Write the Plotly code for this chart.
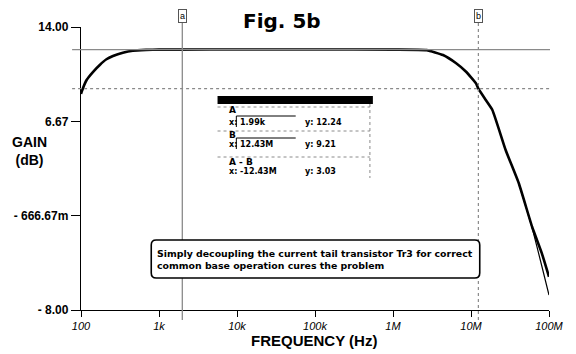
import math
import plotly.graph_objects as go

# ---- data ----
freq = [100, 102, 118, 143, 174, 212, 257, 344, 461, 682, 1000, 1990, 1e4, 1e5, 1e6,
        2.7e6, 4.38e6, 6.45e6, 8.65e6, 11.6e6, 12.43e6, 15.5e6, 18.8e6, 27.8e6, 41e6,
        60.7e6, 81e6, 100e6]
gain = [8.8, 8.97, 9.88, 10.52, 11.05, 11.49, 11.74, 12.0, 12.16, 12.22, 12.24, 12.24,
        12.25, 12.25, 12.24, 12.2, 11.82, 11.18, 10.52, 9.62, 9.21, 8.32, 7.55, 4.44,
        1.85, -1.53, -3.6, -5.42]
freq2 = [41e6, 60.7e6, 81e6, 100e6]
gain2 = [1.85, -1.6, -4.6, -6.84]

x_tickvals = [100, 1e3, 1e4, 1e5, 1e6, 1e7, 1e8]
x_ticktext = ["100", "1k", "10k", "100k", "1M", "10M", "100M"]
x_minor = [m * d for d in [100, 1e3, 1e4, 1e5, 1e6, 1e7] for m in range(2, 10)]
y_tickvals = [14, 6.6667, -0.6667, -8]
y_ticktext = ["14.00", "6.67", "- 666.67m", "- 8.00"]
y_minor = [-8 + i * 22 / 30 for i in range(1, 30) if i % 10]

cursor_a = (1.99e3, 12.24)
cursor_b = (12.43e6, 9.21)
table_rows = [("A", "1.99k", "12.24"), ("B", "12.43M", "9.21"), ("A - B", "-12.43M", "3.03")]
note = "Simply decoupling the current tail transistor Tr3 for correct<br>common base operation cures the problem"

# ---- layout geometry (pixels) ----
W, H = 576, 354
L, R, T, B = 81, 554, 27, 310
PW, PH = R - L, B - T
FONT = "Liberation Sans, Arial, sans-serif"
WIDE = "DejaVu Sans, sans-serif"


def px(x):
    return (x - L) / PW


def py(y):
    return (B - y) / PH


fig = go.Figure()
fig.add_trace(go.Scatter(x=freq, y=gain, mode="lines",
                         line=dict(color="black", width=2.6, shape="spline", smoothing=0.4),
                         hoverinfo="skip", showlegend=False))
fig.add_trace(go.Scatter(x=freq2, y=gain2, mode="lines",
                         line=dict(color="black", width=1.2, shape="spline", smoothing=0.4),
                         hoverinfo="skip", showlegend=False))
# minor tick marks as axis decoration (markers drawn just outside the axes)
fig.add_trace(go.Scatter(x=x_minor, y=[-8 - 2.2 / 12.86] * len(x_minor), mode="markers",
                         marker=dict(symbol="line-ns", size=4.5, line=dict(color="black", width=1.2)),
                         cliponaxis=False, hoverinfo="skip", showlegend=False))
fig.add_trace(go.Scatter(x=[10 ** (2 - 2.2 / 78.83)] * len(y_minor), y=y_minor, mode="markers",
                         marker=dict(symbol="line-ew", size=4.5, line=dict(color="black", width=1.2)),
                         cliponaxis=False, hoverinfo="skip", showlegend=False))

shapes = []
grey = "#8a8a8a"
# horizontal cursor lines
shapes.append(dict(type="line", xref="paper", yref="y", x0=px(72), x1=px(555),
                   y0=cursor_a[1], y1=cursor_a[1], line=dict(color=grey, width=1.2)))
shapes.append(dict(type="line", xref="paper", yref="y", x0=px(72), x1=px(555),
                   y0=cursor_b[1], y1=cursor_b[1], line=dict(color=grey, width=1.2, dash="dot")))
# vertical cursor lines
shapes.append(dict(type="line", xref="x", yref="paper", x0=cursor_a[0], x1=cursor_a[0],
                   y0=py(320), y1=py(21), line=dict(color=grey, width=1.3)))
shapes.append(dict(type="line", xref="x", yref="paper", x0=cursor_b[0], x1=cursor_b[0],
                   y0=py(320), y1=py(21), line=dict(color=grey, width=1.2, dash="dot")))

# cursor table
tx0, tx1 = 219, 376
shapes.append(dict(type="rect", xref="paper", yref="paper", x0=px(tx0), x1=px(tx1),
                   y0=py(104), y1=py(96), fillcolor="black", line=dict(width=0)))
shapes.append(dict(type="line", xref="paper", yref="paper", x0=px(373), x1=px(373),
                   y0=py(104), y1=py(178), line=dict(color=grey, width=1, dash="dot")))
for sy in [107, 131, 157]:
    shapes.append(dict(type="line", xref="paper", yref="paper", x0=px(tx0), x1=px(373),
                       y0=py(sy), y1=py(sy), line=dict(color=grey, width=1, dash="dot")))
for top in [116, 138]:
    shapes.append(dict(type="path", xref="paper", yref="paper",
                       path=f"M {px(238)} {py(top + 11)} L {px(238)} {py(top)} L {px(298)} {py(top)}",
                       line=dict(color="black", width=1)))

# rounded note box
bx0, bx1, by0, by1, r = 152, 484, 240, 278, 5
rx, ry = r / PW, r / PH
X0, X1, Y0, Y1 = px(bx0), px(bx1), py(by1), py(by0)
path = (f"M {X0+rx} {Y1} L {X1-rx} {Y1} Q {X1} {Y1} {X1} {Y1-ry} "
        f"L {X1} {Y0+ry} Q {X1} {Y0} {X1-rx} {Y0} L {X0+rx} {Y0} "
        f"Q {X0} {Y0} {X0} {Y0+ry} L {X0} {Y1-ry} Q {X0} {Y1} {X0+rx} {Y1} Z")
shapes.append(dict(type="path", xref="paper", yref="paper", path=path,
                   fillcolor="white", line=dict(color="black", width=1.6)))

ann = []


def text(t, x, y, size, xanchor="center", xref="paper", family=FONT, **kw):
    d = dict(text=t, x=x, y=y, xref=xref, yref="paper", xanchor=xanchor, yanchor="middle",
             showarrow=False, font=dict(size=size, color="black", family=family))
    d.update(kw)
    ann.append(d)


text("<b>Fig. 5b</b>", px(284), py(21), 20, family=WIDE)
text("<b>FREQUENCY (Hz)</b>", px(316), py(340), 15)
text("<b>GAIN<br>(dB)</b>", px(29), py(151), 14)
for lab, xv in [("a", cursor_a[0]), ("b", cursor_b[0])]:
    text(lab, math.log10(xv), py(16), 9, xref="x", bordercolor="#555", borderwidth=1,
         borderpad=1, bgcolor="white")
row_y = [(110, 122), (135, 144), (162, 171)]
for (name, xv, yv), (yn, yr) in zip(table_rows, row_y):
    text(f"<b>{name}</b>", px(229), py(yn), 9, xanchor="left", family=WIDE)
    text("<b>x:</b>", px(229), py(yr), 8, xanchor="left", family=WIDE)
    text(f"<b>{xv}</b>", px(240), py(yr), 8, xanchor="left", family=WIDE)
    text(f"<b>y: {yv}</b>", px(305), py(yr), 8, xanchor="left", family=WIDE)
text(f"<b>{note}</b>", px(156), py(259), 9.4, xanchor="left", align="left", family=WIDE)

fig.update_layout(
    width=W, height=H,
    margin=dict(l=L, r=W - R, t=T, b=H - B),
    paper_bgcolor="white", plot_bgcolor="white",
    shapes=shapes, annotations=ann,
    xaxis=dict(type="log", range=[2, 8], showgrid=False, zeroline=False,
               showline=True, linecolor="black", linewidth=1.4,
               tickmode="array", tickvals=x_tickvals,
               ticktext=[f"<i>{t}</i>" for t in x_ticktext],
               ticks="outside", ticklen=6, tickcolor="black", tickwidth=1.2,
               tickfont=dict(size=11, color="black", family=FONT, style="italic")),
    yaxis=dict(range=[-8, 14], showgrid=False, zeroline=False,
               showline=True, linecolor="black", linewidth=1.4,
               tickmode="array", tickvals=y_tickvals,
               ticktext=[f"<b>{t}</b>" for t in y_ticktext],
               ticks="outside", ticklen=9, tickcolor="black", tickwidth=1.2,
               tickfont=dict(size=12, color="black", family=FONT)),
)

fig.write_html("out.html")
